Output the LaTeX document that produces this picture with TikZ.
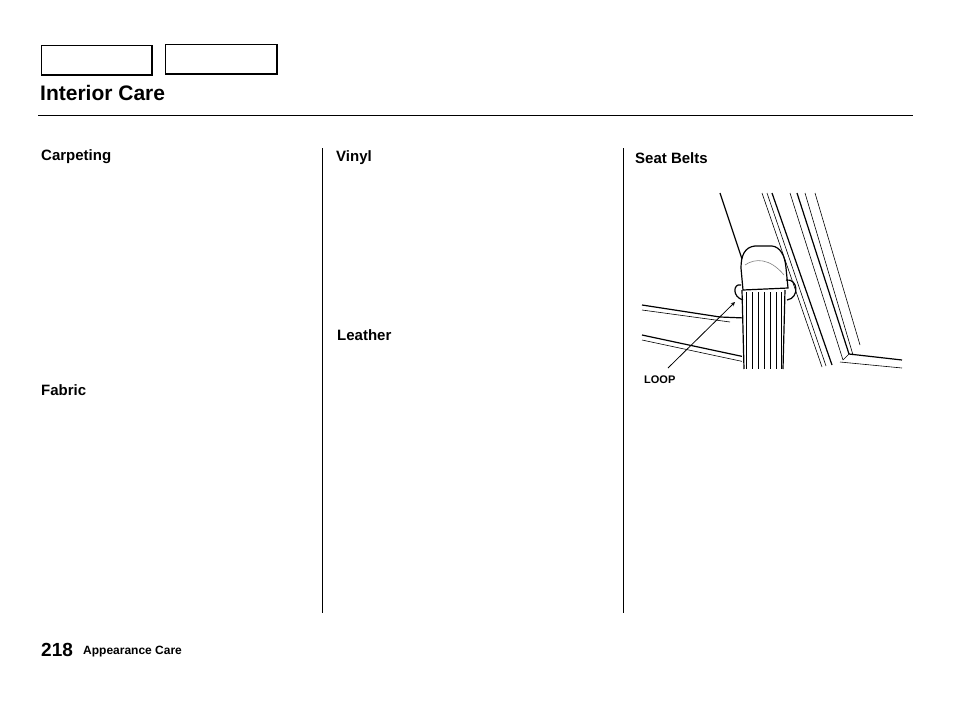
\documentclass[tikz,border=0pt]{standalone}
\usepackage{fontspec}
\setmainfont{Liberation Sans}
\begin{document}
\begin{tikzpicture}[x=1pt,y=-1pt,
 head/.style={anchor=west,font=\fontsize{15}{18}\selectfont\bfseries,inner sep=0},
 ln/.style={line width=1.2pt},
 thin/.style={line width=0.6pt}]
\useasboundingbox (0,0) rectangle (954,702);
% header boxes
\node[draw,line width=0.8pt,minimum width=110,minimum height=29,anchor=north west,inner sep=0] (b1) at (41,45) {};
\draw[line width=1.5pt] (b1.north east) -- (b1.south east) -- (b1.south west);
\node[draw,line width=0.8pt,minimum width=111,minimum height=29,anchor=north west,inner sep=0] (b2) at (165,44) {};
\draw[line width=1.5pt] (b2.north east) -- (b2.south east) -- (b2.south west);
\node[anchor=west,inner sep=0,font=\fontsize{21}{24}\selectfont\bfseries] (title) at (40,93) {Interior Care};
\draw[line width=0.6pt] (38,115) -- (913,115);
\draw[line width=0.8pt] (322,148) -- (322,613);
\draw[line width=0.8pt] (623,148) -- (623,613);
\node[head] (h1) at (41,157) {Carpeting};
\node[head] (h2) at (41,390) {Fabric};
\node[head] (h3) at (336,158) {Vinyl};
\node[head] (h4) at (337,335) {Leather};
\node[head] (h5) at (635,158) {Seat Belts};
\node[anchor=west,inner sep=0,font=\fontsize{19}{22}\selectfont\bfseries] (pg) at (41,650) {218};
\node[anchor=west,inner sep=0,font=\fontsize{12}{14}\selectfont\bfseries] (sec) at (83,652) {Appearance Care};
% illustration
\draw[ln] (720,193) -- (743,262);
\draw[thin] (762,193) -- (822,367);
\draw[thin] (767,193) -- (826,366);
\draw[ln] (772,193) -- (832,365);
\draw[thin] (790,193) -- (843,360);
\draw[ln] (797,193) -- (849,354);
\draw[thin] (805,193) -- (853,355);
\draw[thin] (815,193) -- (860,345);
\draw[ln] (642,305) -- (720,317) -- (745,318);
\draw[thin] (642,310) -- (730,322);
\draw[ln] (642,335) -- (745,357);
\draw[thin] (642,340) -- (745,362);
\draw[ln] (849,354) -- (902,360);
\draw[thin] (840,362) -- (902,368);
\draw[thin] (843,360) -- (849,354);
% belt
\fill[white] (742,290) rectangle (785,369);
\foreach \x in {746,752,758,764,770,776,781} \draw[thin] (\x,292) -- (\x,369);
\draw[ln] (742,290) -- (744,369);
\draw[ln] (785,290) -- (783,369);
% guide
\draw[ln,fill=white] (743,290) -- (741,268) .. controls (741,255) and (745,247) .. (755,246)
  -- (772,246) .. controls (780,247) and (785,255) .. (786,268) -- (788,288) -- cycle;
\draw[thin,gray] (745,265) .. controls (755,258) and (770,258) .. (784,275);
\draw[ln] (741,285) .. controls (733,283) and (732,297) .. (743,300);
\draw[ln] (786,280) .. controls (798,278) and (800,298) .. (787,300);
% arrow
\coordinate (lp) at (735,302);
\node[anchor=west,inner sep=0,font=\fontsize{11}{13}\selectfont\bfseries] (loop) at (644,380) {LOOP};
\draw[line width=0.8pt,-stealth] (668,368) -- (lp);
\end{tikzpicture}
\end{document}
